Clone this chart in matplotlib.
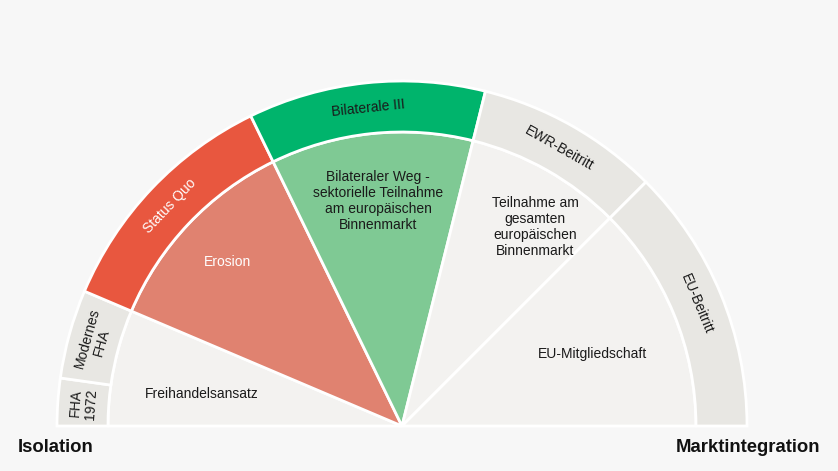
import matplotlib.pyplot as plt
from matplotlib.patches import Wedge
import numpy as np

# inner wedges (policy approach), angles in degrees, 0 = right
inner_labels = ["Freihandelsansatz", "Erosion",
                "Bilateraler Weg -\nsektorielle Teilnahme\nam europäischen\nBinnenmarkt",
                "Teilnahme am\ngesamten\neuropäischen\nBinnenmarkt",
                "EU-Mitgliedschaft"]
inner_start = [157, 116, 76, 45, 0]
inner_end = [180, 157, 116, 76, 45]
inner_colors = ["#F3F2F0", "#E08270", "#7FC994", "#F3F2F0", "#F3F2F0"]
inner_text_colors = ["#1a1a1a", "white", "#1a1a1a", "#1a1a1a", "#1a1a1a"]
# label positions in pixel coords of the reference (x, y from top)
inner_label_pos = [(202, 394), (227, 262), (378, 201), (535, 227), (592, 354)]

# outer ring (concrete options)
outer_labels = ["FHA\n1972", "Modernes\nFHA", "Status Quo", "Bilaterale III",
                "EWR-Beitritt", "EU-Beitritt"]
outer_start = [172, 157, 116, 76, 45, 0]
outer_end = [180, 172, 157, 116, 76, 45]
outer_colors = ["#E8E7E3", "#E8E7E3", "#E8573F", "#00B46C", "#E8E7E3", "#E8E7E3"]
outer_text_colors = ["#1a1a1a", "#1a1a1a", "white", "#1a1a1a", "#1a1a1a", "#1a1a1a"]

W, H = 838, 471
cx, cy = 402, H - 426
r_in, r_out = 294, 345

plt.rcParams['font.family'] = ['Liberation Sans', 'DejaVu Sans']

fig = plt.figure(figsize=(W / 100, H / 100), dpi=100)
fig.patch.set_facecolor("#F7F7F7")
ax = fig.add_axes([0, 0, 1, 1])
ax.set_xlim(0, W)
ax.set_ylim(0, H)
ax.set_aspect("equal")
ax.axis("off")

for s, e, c in zip(inner_start, inner_end, inner_colors):
    ax.add_patch(Wedge((cx, cy), r_in, s, e, facecolor=c, edgecolor="white", linewidth=2))
for s, e, c in zip(outer_start, outer_end, outer_colors):
    ax.add_patch(Wedge((cx, cy), r_out, s, e, width=r_out - r_in,
                       facecolor=c, edgecolor="white", linewidth=2))

for lab, (x, y), tc in zip(inner_labels, inner_label_pos, inner_text_colors):
    ax.text(x, H - y, lab, ha="center", va="center", fontsize=10, color=tc,
            linespacing=1.2)

r_mid = (r_in + r_out) / 2
for lab, s, e, tc in zip(outer_labels, outer_start, outer_end, outer_text_colors):
    mid = (s + e) / 2
    x = cx + r_mid * np.cos(np.radians(mid))
    y = cy + r_mid * np.sin(np.radians(mid))
    ax.text(x, y, lab, ha="center", va="center", fontsize=10, color=tc,
            rotation=mid - 90, rotation_mode="anchor", linespacing=1.1)

ax.text(18, H - 447, "Isolation", ha="left", va="center", fontsize=13.3,
        fontweight="bold", color="#111111")
ax.text(820, H - 447, "Marktintegration", ha="right", va="center", fontsize=13.3,
        fontweight="bold", color="#111111")

fig.savefig("out.png", dpi=100, facecolor=fig.get_facecolor())
